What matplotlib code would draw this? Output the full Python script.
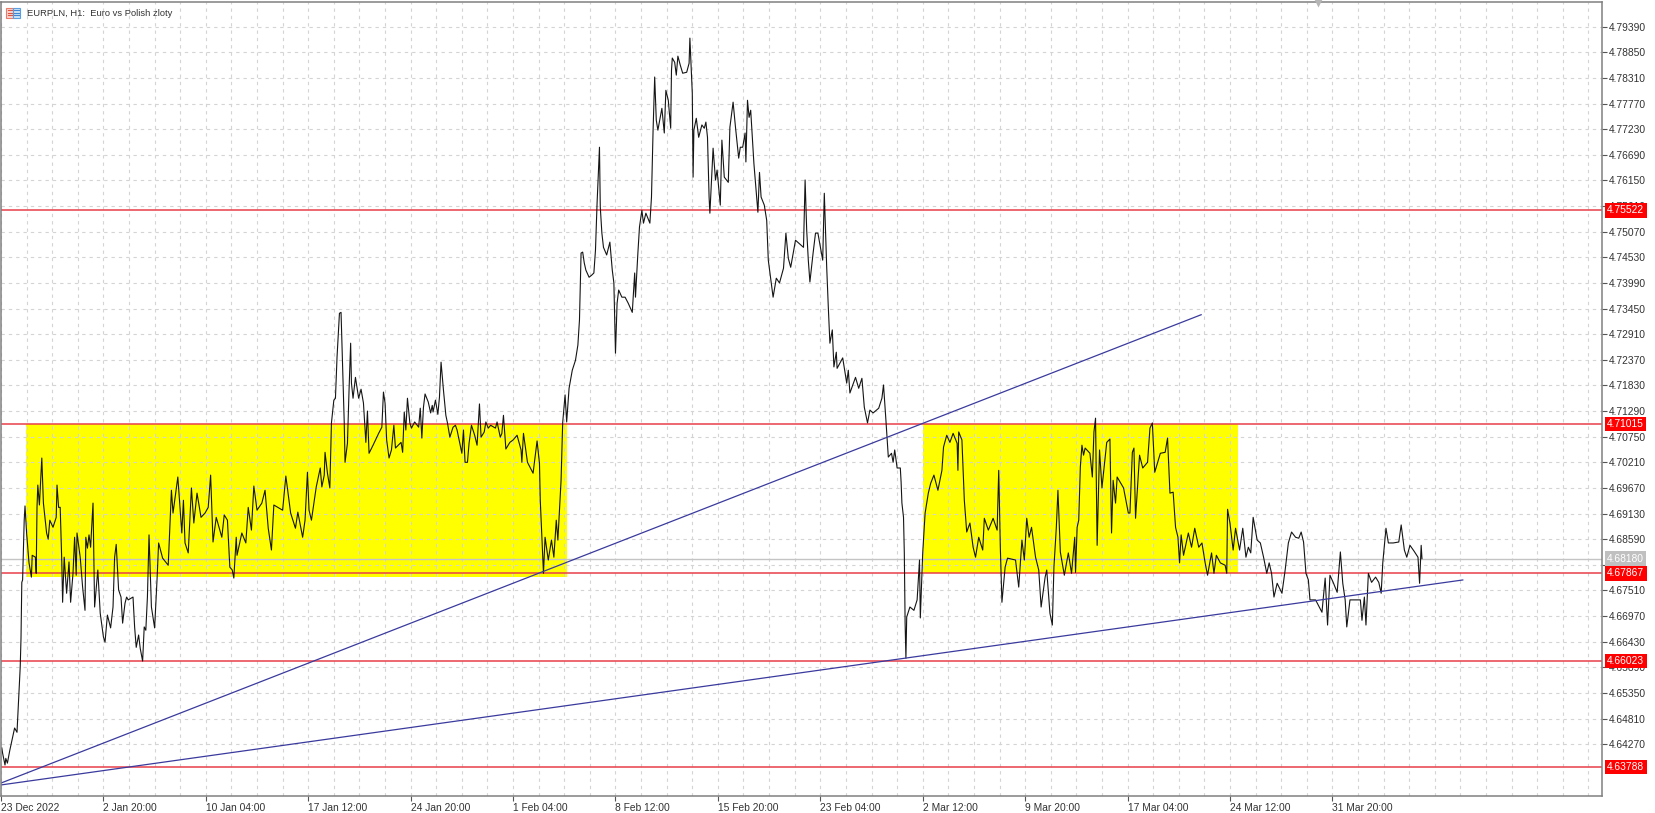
import matplotlib
matplotlib.use("Agg")
import matplotlib.pyplot as plt
from matplotlib.patches import Rectangle
from matplotlib.ticker import FixedLocator

plt.rcParams["font.family"] = ["Liberation Sans", "DejaVu Sans"]

TITLE = "EURPLN, H1:  Euro vs Polish zloty"

# hourly bar index since 23 Dec 2022
BARS = [
    1, 2, 5, 6, 8, 11, 15, 17, 20, 22, 24, 25, 26, 27, 29, 30, 32, 35, 38, 39, 43, 44, 45, 46, 48, 51, 53, 57, 59, 61,
    65, 69, 70, 72, 74, 76, 77, 79, 82, 85, 87, 90, 92, 94, 95, 99, 102, 105, 106, 108, 110, 112, 115, 117, 121, 124,
    128, 130, 133, 137, 140, 142, 144, 147, 150, 152, 155, 157, 159, 165, 167, 169, 172, 174, 177, 179, 181, 183, 185,
    188, 192, 195, 197, 202, 209, 211, 213, 215, 221, 226, 228, 230, 234, 238, 241, 245, 250, 255, 259, 262, 265, 269,
    276, 279, 283, 286, 289, 291, 294, 295, 301, 306, 309, 313, 316, 320, 326, 330, 334, 338, 341, 352, 356, 362, 368,
    371, 377, 380, 383, 385, 388, 394, 399, 401, 404, 405, 408, 411, 413, 416, 418, 420, 423, 425, 427, 429, 430, 433,
    435, 437, 438, 440, 443, 447, 450, 453, 455, 456, 458, 460, 465, 472, 476, 478, 480, 482, 485, 488, 491, 493, 500,
    502, 504, 506, 508, 511, 513, 517, 522, 524, 526, 528, 530, 534, 537, 539, 540, 543, 546, 548, 550, 553, 556, 558,
    561, 565, 568, 570, 576, 578, 580, 583, 585, 588, 592, 595, 598, 600, 604, 606, 609, 612, 618, 620, 624, 626, 628,
    631, 636, 640, 645, 650, 651, 653, 658, 665, 670, 673, 674, 678, 680, 684, 688, 691, 694, 696, 700, 702, 705, 707,
    710, 714, 718, 721, 723, 725, 727, 729, 731, 735, 738, 741, 743, 745, 748, 749, 751, 753, 757, 761, 764, 766, 768,
    770, 772, 776, 780, 784, 789, 792, 793, 796, 798, 801, 803, 806, 811, 813, 815, 817, 819, 821, 824, 826, 829, 831,
    834, 837, 838, 839, 842, 844, 846, 849, 852, 857, 860, 861, 864, 865, 866, 869, 872, 876, 879, 881, 883, 885, 886,
    890, 893, 895, 899, 901, 904, 909, 911, 915, 918, 922, 924, 927, 930, 931, 933, 935, 937, 941, 943, 946, 948, 950,
    954, 957, 959, 965, 969, 973, 978, 981, 984, 987, 993, 1003, 1005, 1007, 1009, 1011, 1015, 1018, 1021, 1027, 1029,
    1032, 1034, 1036, 1039, 1041, 1044, 1045, 1052, 1057, 1059, 1061, 1068, 1072, 1076, 1079, 1083, 1086, 1090, 1097,
    1101, 1103, 1106, 1109, 1113, 1115, 1117, 1120, 1124, 1125, 1126, 1128, 1129, 1130, 1131, 1132, 1136, 1141, 1145,
    1148, 1149, 1152, 1155, 1159, 1162, 1166, 1171, 1176, 1178, 1182, 1186, 1190, 1195, 1196, 1197, 1201, 1204, 1207,
    1211, 1215, 1218, 1222, 1227, 1229, 1234, 1240, 1245, 1247, 1249, 1251, 1255, 1258, 1268, 1270, 1272, 1276, 1279,
    1282, 1285, 1288, 1293, 1297, 1300, 1305, 1307, 1311, 1314, 1316, 1319, 1321, 1324, 1329, 1334, 1338, 1342, 1343,
    1345, 1347, 1349, 1351, 1353, 1355, 1361, 1364, 1366, 1368, 1370, 1373, 1376, 1382, 1386, 1388, 1390, 1393, 1395,
    1403, 1406, 1409, 1411, 1414, 1416, 1418, 1423, 1427, 1433, 1436, 1439, 1442, 1449, 1455, 1458, 1461, 1465, 1468,
    1471, 1473, 1475, 1478, 1484, 1488, 1492, 1497, 1501, 1505, 1508, 1513, 1516, 1519, 1524, 1530, 1532, 1533, 1536,
    1540, 1543, 1548, 1552, 1556, 1559, 1562, 1565, 1570, 1574, 1578, 1582, 1585, 1588, 1591, 1595, 1601, 1605, 1609,
    1613, 1618, 1622, 1625, 1628, 1631, 1634, 1636, 1643, 1651, 1655, 1658, 1661, 1665, 1670, 1674, 1677, 1680, 1682,
    1686, 1693, 1699, 1701, 1704, 1706, 1709, 1713, 1718, 1722, 1725, 1727, 1731, 1734, 1740, 1747, 1750, 1754, 1757,
    1761, 1766, 1771, 1773, 1775, 1776,
]

CLOSE = [
    4.6419, 4.6408, 4.6383, 4.6397, 4.6387, 4.6414, 4.6446, 4.6461, 4.6452, 4.6520, 4.6589, 4.6650, 4.6768, 4.6773,
    4.6899, 4.6929, 4.6872, 4.6809, 4.6779, 4.6825, 4.6821, 4.6787, 4.6926, 4.6973, 4.6931, 4.7030, 4.6935, 4.6872,
    4.6859, 4.6899, 4.6884, 4.6905, 4.6973, 4.6926, 4.6926, 4.6809, 4.6726, 4.6821, 4.6745, 4.6811, 4.6726, 4.6787,
    4.6863, 4.6783, 4.6872, 4.6821, 4.6758, 4.6709, 4.6863, 4.6840, 4.6868, 4.6842, 4.6935, 4.6716, 4.6794, 4.6703,
    4.6653, 4.6642, 4.6699, 4.6672, 4.6716, 4.6821, 4.6848, 4.6752, 4.6737, 4.6682, 4.6724, 4.6737, 4.6731, 4.6737,
    4.6674, 4.6631, 4.6657, 4.6629, 4.6602, 4.6674, 4.6667, 4.6737, 4.6868, 4.6716, 4.6672, 4.6773, 4.6851, 4.6819,
    4.6804, 4.6884, 4.6962, 4.6914, 4.6990, 4.6872, 4.6941, 4.6851, 4.6830, 4.6967, 4.6893, 4.6956, 4.6905, 4.6914,
    4.6926, 4.6994, 4.6853, 4.6905, 4.6863, 4.6910, 4.6899, 4.6800, 4.6794, 4.6777, 4.6863, 4.6825, 4.6872, 4.6851,
    4.6926, 4.6878, 4.6971, 4.6920, 4.6935, 4.6962, 4.6882, 4.6836, 4.6931, 4.6920, 4.6992, 4.6914, 4.6882, 4.6916,
    4.6863, 4.6899, 4.7000, 4.6920, 4.6899, 4.6969, 4.7009, 4.6969, 4.6994, 4.7042, 4.6998, 4.6967, 4.7104, 4.7152,
    4.7156, 4.7243, 4.7335, 4.7337, 4.7222, 4.7104, 4.7021, 4.7061, 4.7173, 4.7272, 4.7188, 4.7156, 4.7200, 4.7156,
    4.7175, 4.7146, 4.7089, 4.7063, 4.7129, 4.7040, 4.7057, 4.7082, 4.7095, 4.7169, 4.7146, 4.7068, 4.7030, 4.7047,
    4.7099, 4.7051, 4.7063, 4.7042, 4.7127, 4.7089, 4.7156, 4.7104, 4.7093, 4.7106, 4.7095, 4.7135, 4.7072, 4.7137,
    4.7165, 4.7148, 4.7125, 4.7141, 4.7127, 4.7152, 4.7122, 4.7158, 4.7232, 4.7173, 4.7120, 4.7104, 4.7074, 4.7095,
    4.7099, 4.7089, 4.7040, 4.7089, 4.7021, 4.7021, 4.7061, 4.7099, 4.7078, 4.7057, 4.7144, 4.7074, 4.7085, 4.7106,
    4.7093, 4.7099, 4.7093, 4.7106, 4.7074, 4.7082, 4.7120, 4.7049, 4.7063, 4.7068, 4.7078, 4.7047, 4.7021, 4.7082,
    4.7021, 4.6998, 4.7066, 4.7019, 4.6941, 4.6787, 4.6863, 4.6815, 4.6857, 4.6821, 4.6899, 4.6857, 4.6983, 4.7104,
    4.7163, 4.7106, 4.7177, 4.7215, 4.7236, 4.7268, 4.7321, 4.7462, 4.7464, 4.7441, 4.7426, 4.7411, 4.7415, 4.7420,
    4.7468, 4.7567, 4.7685, 4.7559, 4.7504, 4.7474, 4.7458, 4.7485, 4.7426, 4.7399, 4.7251, 4.7356, 4.7384, 4.7369,
    4.7369, 4.7356, 4.7337, 4.7420, 4.7369, 4.7462, 4.7517, 4.7552, 4.7525, 4.7546, 4.7525, 4.7580, 4.7721, 4.7833,
    4.7742, 4.7721, 4.7748, 4.7767, 4.7715, 4.7805, 4.7784, 4.7725, 4.7847, 4.7873, 4.7864, 4.7837, 4.7877, 4.7858,
    4.7841, 4.7843, 4.7862, 4.7915, 4.7799, 4.7622, 4.7721, 4.7746, 4.7706, 4.7732, 4.7725, 4.7738, 4.7706, 4.7580,
    4.7546, 4.7683, 4.7616, 4.7637, 4.7563, 4.7700, 4.7622, 4.7611, 4.7727, 4.7780, 4.7727, 4.7662, 4.7685, 4.7685,
    4.7715, 4.7654, 4.7784, 4.7748, 4.7763, 4.7651, 4.7609, 4.7548, 4.7632, 4.7580, 4.7563, 4.7531, 4.7447, 4.7369,
    4.7409, 4.7399, 4.7430, 4.7504, 4.7451, 4.7432, 4.7489, 4.7474, 4.7616, 4.7510, 4.7447, 4.7401, 4.7462, 4.7504,
    4.7504, 4.7447, 4.7588, 4.7432, 4.7348, 4.7272, 4.7300, 4.7222, 4.7253, 4.7219, 4.7241, 4.7188, 4.7215, 4.7167,
    4.7200, 4.7177, 4.7198, 4.7137, 4.7104, 4.7131, 4.7125, 4.7135, 4.7156, 4.7184, 4.7110, 4.7032, 4.7040, 4.7021,
    4.7047, 4.7009, 4.7009, 4.6979, 4.6935, 4.6905, 4.6830, 4.6682, 4.6608, 4.6695, 4.6716, 4.6709, 4.6731, 4.6815,
    4.6693, 4.6830, 4.6914, 4.6956, 4.6977, 4.6994, 4.6962, 4.7004, 4.7053, 4.7078, 4.7063, 4.7082, 4.7061, 4.7004,
    4.7085, 4.7068, 4.6941, 4.6874, 4.6893, 4.6842, 4.6821, 4.6863, 4.6836, 4.6903, 4.6878, 4.6903, 4.6878, 4.7004,
    4.6842, 4.6726, 4.6800, 4.6819, 4.6815, 4.6787, 4.6758, 4.6857, 4.6815, 4.6903, 4.6863, 4.6884, 4.6821, 4.6794,
    4.6716, 4.6779, 4.6794, 4.6703, 4.6678, 4.6800, 4.6884, 4.6962, 4.6832, 4.6783, 4.6830, 4.6787, 4.6863, 4.6789,
    4.6884, 4.6899, 4.7011, 4.7057, 4.7036, 4.7051, 4.7040, 4.6990, 4.7085, 4.7114, 4.6846, 4.7047, 4.6967, 4.7063,
    4.7070, 4.6872, 4.6983, 4.6935, 4.6990, 4.6967, 4.6941, 4.6914, 4.6914, 4.7042, 4.7051, 4.6903, 4.7036, 4.7009,
    4.7021, 4.7093, 4.7104, 4.7000, 4.7040, 4.7042, 4.7072, 4.6956, 4.6958, 4.6884, 4.6863, 4.6809, 4.6868, 4.6825,
    4.6872, 4.6842, 4.6882, 4.6842, 4.6851, 4.6809, 4.6783, 4.6830, 4.6787, 4.6825, 4.6809, 4.6804, 4.6787, 4.6922,
    4.6893, 4.6836, 4.6882, 4.6836, 4.6882, 4.6821, 4.6842, 4.6830, 4.6905, 4.6857, 4.6851, 4.6821, 4.6787, 4.6809,
    4.6787, 4.6737, 4.6766, 4.6745, 4.6794, 4.6851, 4.6874, 4.6863, 4.6861, 4.6874, 4.6853, 4.6787, 4.6773, 4.6731,
    4.6731, 4.6705, 4.6777, 4.6678, 4.6783, 4.6768, 4.6747, 4.6832, 4.6766, 4.6731, 4.6674, 4.6731, 4.6731, 4.6731,
    4.6688, 4.6737, 4.6678, 4.6787, 4.6768, 4.6779, 4.6768, 4.6745, 4.6809, 4.6882, 4.6851, 4.6851, 4.6853, 4.6889,
    4.6836, 4.6821, 4.6846, 4.6834, 4.6821, 4.6766, 4.6846, 4.6818,
]

X_TICKS = [0, 128, 256, 384, 512, 640, 768, 896, 1024, 1152, 1280, 1408, 1536, 1664]
X_LABELS = ["23 Dec 2022", "2 Jan 20:00", "10 Jan 04:00", "17 Jan 12:00", "24 Jan 20:00", "1 Feb 04:00", "8 Feb 12:00",
            "15 Feb 20:00", "23 Feb 04:00", "2 Mar 12:00", "9 Mar 20:00", "17 Mar 04:00", "24 Mar 12:00", "31 Mar 20:00"]
Y_TICKS = [4.79390, 4.78850, 4.78310, 4.77770, 4.77230, 4.76690, 4.76150, 4.75610, 4.75070, 4.74530, 4.73990, 4.73450,
           4.72910, 4.72370, 4.71830, 4.71290, 4.70750, 4.70210, 4.69670, 4.69130, 4.68590, 4.68050, 4.67510, 4.66970,
           4.66430, 4.65890, 4.65350, 4.64810, 4.64270]

LEVELS = [4.75522, 4.71015, 4.67867, 4.66023, 4.63788]
LAST_PRICE = 4.68180
ZONE_BARS = [(31, 707), (1152, 1546)]
ZONE_PRICES = [(4.6779, 4.71015), (4.67867, 4.71015)]
TREND_BARS = [(0, 1500), (0, 1827)]
TREND_PRICES = [(4.6345, 4.7332), (4.6341, 4.6773)]

W, H = 1655, 813


def main():
    fig = plt.figure(figsize=(W / 100, H / 100), dpi=100, facecolor="white")
    ax = fig.add_axes([1 / W, 1 - 796 / H, 1601 / W, 794 / H])
    ax.set_xlim(0, 2001)
    ax.set_ylim(4.63177, 4.79911)

    for (x0, x1), (y0, y1) in zip(ZONE_BARS, ZONE_PRICES):
        ax.add_patch(Rectangle((x0, y0), x1 - x0, y1 - y0, facecolor="#ffff00", edgecolor="none", zorder=1))

    # grid sits on top of the yellow zones, same as the terminal
    ax.xaxis.set_minor_locator(FixedLocator(range(32, 2001, 32)))
    ax.grid(True, which="both", color="#d4d4d4", linewidth=0.8, linestyle=(0, (3.0, 3.6)))
    ax.tick_params(axis="x", which="minor", length=0)

    ax.axhline(LAST_PRICE, color="#c4c4c4", linewidth=1, zorder=1.8)
    for level in LEVELS:
        ax.axhline(level, color="#e8404a", linewidth=1.1, zorder=1.9)
    ax.plot(BARS, CLOSE, color="#151515", linewidth=0.8, zorder=2.2)
    for tb, tp in zip(TREND_BARS, TREND_PRICES):
        ax.plot(tb, tp, color="#3a3a9e", linewidth=0.9, zorder=2.4)

    ax.yaxis.tick_right()
    ax.set_yticks(Y_TICKS, [f"{v:.5f}" for v in Y_TICKS])
    ax.set_xticks(X_TICKS, X_LABELS, ha="left")
    ax.tick_params(axis="both", which="major", length=3.5, width=0.8, color="#555555", labelcolor="#333333",
                   labelsize=7.4, pad=1.5)
    for name in ["left", "right", "top", "bottom"]:
        ax.spines[name].set_color("#808080")
        ax.spines[name].set_linewidth(1.1)

    # price tags over the right scale
    trans = ax.get_yaxis_transform()
    ax.text(1.0032, LAST_PRICE, f"{LAST_PRICE:.5f}", transform=trans, va="center", ha="left", fontsize=7.4,
            color="white", zorder=5, clip_on=False,
            bbox=dict(boxstyle="square,pad=0.22", facecolor="#c0c0c0", edgecolor="none"))
    for level in LEVELS:
        ax.text(1.0032, level, f"{level:.5f}", transform=trans, va="center", ha="left", fontsize=7.4,
                color="white", zorder=6, clip_on=False,
                bbox=dict(boxstyle="square,pad=0.22", facecolor="#ff0000", edgecolor="none"))

    # symbol icon + title, top left
    fig.patches.append(Rectangle((6 / W, 1 - 18 / H), 7 / W, 10 / H, transform=fig.transFigure, facecolor="#fbd5cf",
                                 edgecolor="#ea7a6a", linewidth=0.8))
    fig.patches.append(Rectangle((13 / W, 1 - 18 / H), 7 / W, 10 / H, transform=fig.transFigure, facecolor="#cfe3f7",
                                 edgecolor="#5a9fe0", linewidth=0.8))
    for py in [10.5, 13, 15.5]:
        fig.add_artist(plt.Line2D([7.5 / W, 12 / W], [1 - py / H] * 2, color="#e0533f", linewidth=0.8))
        fig.add_artist(plt.Line2D([14 / W, 19 / W], [1 - py / H] * 2, color="#3d86d1", linewidth=0.8))
    fig.text(26.5 / W, 1 - 13.5 / H, TITLE, fontsize=6.75, color="#333333", va="center", ha="left")

    # little grey notch on the top edge
    ax.plot([1317 / 1601], [1.0], marker="v", markersize=7.5, color="#b5b5b5", markeredgecolor="none",
            transform=ax.transAxes, clip_on=False, zorder=6)

    fig.savefig("out.png", dpi=100)


if __name__ == "__main__":
    main()
